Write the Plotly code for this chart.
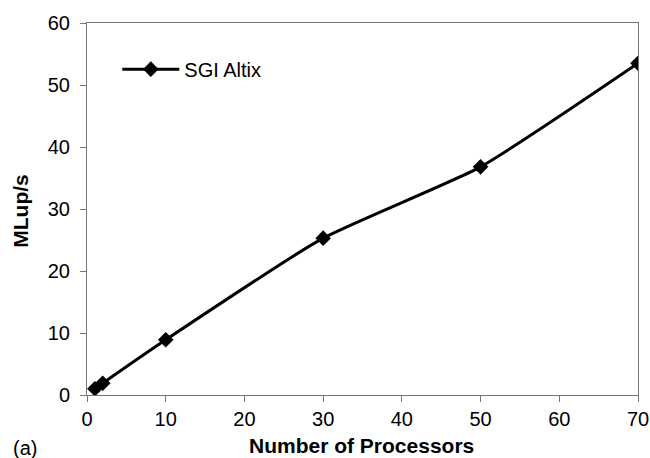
import plotly.graph_objects as go

processors = [1, 2, 10, 30, 50, 70]
mlups = [1.0, 1.9, 8.9, 25.3, 36.8, 53.5]
series_name = "SGI Altix"
x_ticks = [0, 10, 20, 30, 40, 50, 60, 70]
y_ticks = [0, 10, 20, 30, 40, 50, 60]

fig = go.Figure()
fig.add_trace(go.Scatter(
    x=processors, y=mlups, name=series_name, mode="lines+markers",
    line=dict(color="black", width=3, shape="spline", smoothing=0.5),
    marker=dict(symbol="diamond", size=12, color="black"),
))

font_family = "Liberation Sans, Arial, sans-serif"
axis_common = dict(showgrid=False, zeroline=False, showline=True,
                   linecolor="#777", linewidth=1, mirror=True,
                   ticks="outside", ticklen=6, tickcolor="#777",
                   automargin=False, tickfont=dict(size=20))
fig.update_layout(
    width=650, height=458,
    margin=dict(l=87, r=12, t=23, b=63),
    paper_bgcolor="white", plot_bgcolor="white",
    font=dict(family=font_family, size=20, color="black"),
    showlegend=True,
    legend=dict(x=0.055, y=0.876, xanchor="left", yanchor="middle",
                itemwidth=57,
                bgcolor="rgba(0,0,0,0)", font=dict(size=20)),
    xaxis=dict(range=[0, 70], tickvals=x_ticks, **axis_common),
    yaxis=dict(range=[0, 60], tickvals=y_ticks, ticklabelstandoff=6, **axis_common),
)
fig.add_annotation(text="<b>Number of Processors</b>", xref="paper", yref="paper",
                   x=0.499, y=-0.135, xanchor="center", yanchor="middle",
                   showarrow=False, font=dict(size=21))
fig.add_annotation(text="<b>MLup/s</b>", xref="paper", yref="paper",
                   x=-0.12, y=0.495, xanchor="center", yanchor="middle",
                   textangle=-90, showarrow=False, font=dict(size=21))
fig.add_annotation(text="(a)", xref="paper", yref="paper", x=-0.138, y=-0.143,
                   xanchor="left", yanchor="middle", showarrow=False,
                   font=dict(size=20))
fig.write_html("out.html",
               config={"displayModeBar": False},
               post_script="document.body.style.margin='0';document.body.style.overflow='hidden';")
